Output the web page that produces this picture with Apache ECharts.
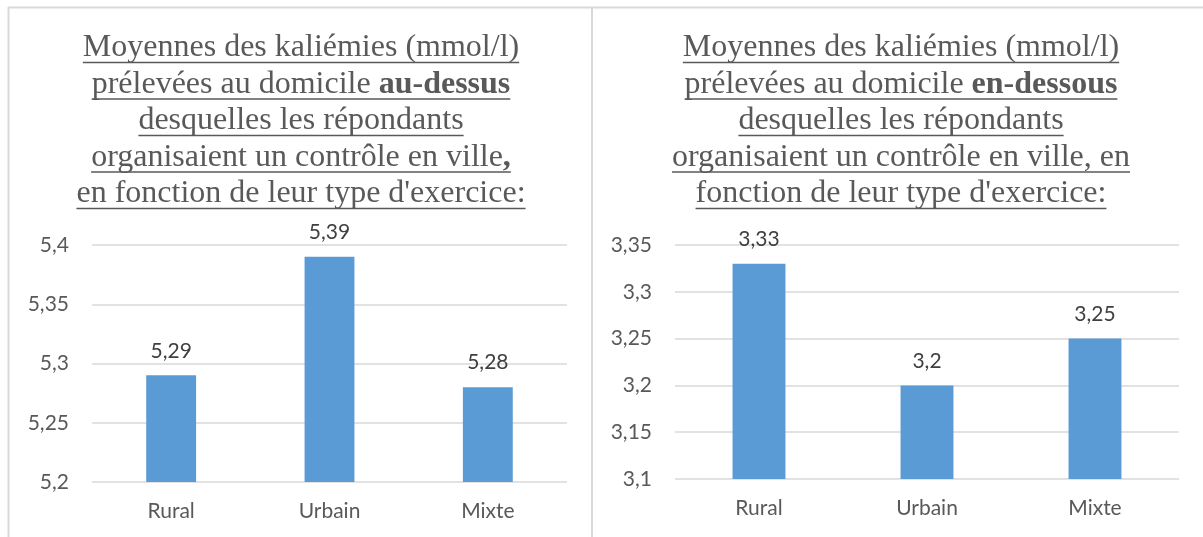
<!DOCTYPE html>
<html>
<head>
<meta charset="utf-8">
<script src="https://cdn.jsdelivr.net/npm/echarts@6/dist/echarts.min.js"></script>
<style>
  html, body { margin: 0; padding: 0; background: #fff; }
  #main { width: 1203px; height: 537px; }
</style>
</head>
<body>
<div id="main"></div>
<script>
const categories = ['Rural', 'Urbain', 'Mixte'];
const aboveValues = [5.29, 5.39, 5.28];
const belowValues = [3.33, 3.2, 3.25];
const aboveTicks = [5.2, 5.25, 5.3, 5.35, 5.4];
const belowTicks = [3.1, 3.15, 3.2, 3.25, 3.3, 3.35];

// title lines: [text, style] segments, 'b' = bold
const titleAbove = [
  [['Moyennes des kaliémies (mmol/l)', 'n']],
  [['prélevées au domicile ', 'n'], ['au-dessus', 'b']],
  [['desquelles les répondants', 'n']],
  [['organisaient un contrôle en ville', 'n'], [',', 'b']],
  [["en fonction de leur type d'exercice:", 'n']],
];
const titleBelow = [
  [['Moyennes des kaliémies (mmol/l)', 'n']],
  [['prélevées au domicile ', 'n'], ['en-dessous', 'b']],
  [['desquelles les répondants', 'n']],
  [['organisaient un contrôle en ville, en', 'n']],
  [["fonction de leur type d'exercice:", 'n']],
];

const GREY = '#595959';
const GRID_COLOR = '#d9d9d9';
const TITLE_FONT = '"Liberation Serif", "Times New Roman", serif';
const TITLE_SIZE = 32;
const LABEL_FONT = 'Lato, "Open Sans", sans-serif';

const measureCtx = document.createElement('canvas').getContext('2d');
function lineWidth(segs) {
  let w = 0;
  segs.forEach(([t, s]) => {
    measureCtx.font = (s === 'b' ? 'bold ' : '') + TITLE_SIZE + 'px ' + TITLE_FONT;
    w += measureCtx.measureText(t).width;
  });
  return w;
}

function titleGraphics(lines, cx) {
  const out = [];
  const firstMid = 48;
  const step = 36.5;
  lines.forEach((segs, i) => {
    const mid = firstMid + i * step;
    out.push({
      type: 'text',
      x: cx,
      y: mid,
      style: {
        text: segs.map(([t, s]) => '{' + s + '|' + t + '}').join(''),
        align: 'center',
        verticalAlign: 'middle',
        fill: GREY,
        rich: {
          n: { fontFamily: TITLE_FONT, fontSize: TITLE_SIZE, fill: GREY },
          b: { fontFamily: TITLE_FONT, fontSize: TITLE_SIZE, fontWeight: 'bold', fill: GREY },
        },
      },
    });
    const w = lineWidth(segs);
    const uy = mid + 14.5;
    out.push({
      type: 'line',
      shape: { x1: cx - w / 2, y1: uy, x2: cx + w / 2, y2: uy },
      style: { stroke: GREY, lineWidth: 1.5 },
    });
  });
  return out;
}

function fmt(v) {
  return (+v.toFixed(2)).toString().replace('.', ',');
}

function yAxisFor(ticks, gridIndex) {
  return {
    type: 'value',
    gridIndex: gridIndex,
    min: ticks[0],
    max: ticks[ticks.length - 1],
    interval: +(ticks[1] - ticks[0]).toFixed(2),
    axisLine: { show: false },
    axisTick: { show: false },
    axisLabel: {
      formatter: fmt,
      color: GREY,
      fontFamily: LABEL_FONT,
      fontSize: 21,
      margin: 23,
    },
    splitLine: { lineStyle: { color: GRID_COLOR, width: 1.5 } },
  };
}

function xAxisFor(gridIndex) {
  return {
    type: 'category',
    gridIndex: gridIndex,
    data: categories,
    axisLine: { show: false },
    axisTick: { show: false },
    axisLabel: {
      color: GREY,
      fontFamily: LABEL_FONT,
      fontSize: 21,
      margin: 19,
    },
  };
}

function seriesFor(values, idx) {
  return {
    type: 'bar',
    xAxisIndex: idx,
    yAxisIndex: idx,
    data: values,
    barWidth: '31.5%',
    itemStyle: { color: '#5b9bd5' },
    label: {
      show: true,
      position: 'top',
      distance: 14,
      formatter: (p) => fmt(p.value),
      color: '#404040',
      fontFamily: LABEL_FONT,
      fontSize: 21,
    },
  };
}

const borders = [
  { x1: 8, y1: 7.5, x2: 1203, y2: 7.5 },
  { x1: 8.5, y1: 7, x2: 8.5, y2: 537 },
  { x1: 592, y1: 7, x2: 592, y2: 537 },
].map((s) => ({ type: 'line', shape: s, style: { stroke: GRID_COLOR, lineWidth: 2 } }));

const chart = echarts.init(document.getElementById('main'));
chart.setOption({
  animation: false,
  grid: [
    { left: 92, top: 245, width: 475, height: 237 },
    { left: 675, top: 245, width: 504, height: 234 },
  ],
  xAxis: [xAxisFor(0), xAxisFor(1)],
  yAxis: [yAxisFor(aboveTicks, 0), yAxisFor(belowTicks, 1)],
  series: [seriesFor(aboveValues, 0), seriesFor(belowValues, 1)],
  graphic: borders.concat(titleGraphics(titleAbove, 301), titleGraphics(titleBelow, 901)),
});
</script>
</body>
</html>
